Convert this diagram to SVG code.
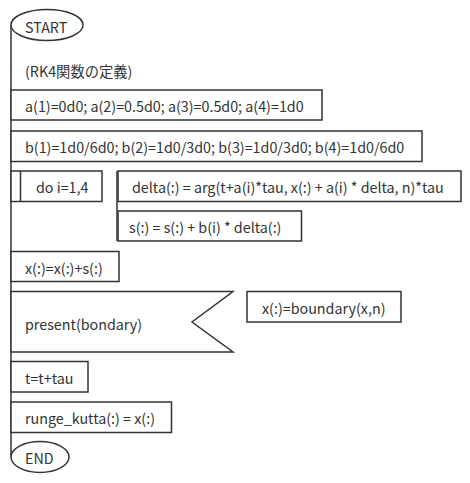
<svg xmlns="http://www.w3.org/2000/svg" width="470" height="483" viewBox="0 0 470 483">
<style>
.s{fill:#fff;stroke:#333;stroke-width:1.5}
.l{fill:none;stroke:#333;stroke-width:1.5}
text{font-family:"Noto Sans CJK JP","Noto Sans",sans-serif;font-size:14.3px;fill:#333;dominant-baseline:central}
</style>
<rect width="470" height="483" fill="#fff"/>
<g id="connectors">
<line class="l" x1="11" y1="25" x2="11" y2="457"/>
<line class="l" x1="117" y1="171" x2="117" y2="241"/>
</g>
<g id="start"><ellipse class="s" cx="47" cy="25" rx="36" ry="15.5"/><text x="25" y="26">START</text></g>
<g id="comment"><text x="25" y="70">(RK4関数の定義)</text></g>
<g id="a"><rect class="s" x="11" y="90" width="311" height="30"/><text x="25" y="105.5">a(1)=0d0; a(2)=0.5d0; a(3)=0.5d0; a(4)=1d0</text></g>
<g id="b"><rect class="s" x="11" y="131" width="411" height="30.5"/><text x="25" y="146.5">b(1)=1d0/6d0; b(2)=1d0/3d0; b(3)=1d0/3d0; b(4)=1d0/6d0</text></g>
<g id="do"><rect class="s" x="11" y="171" width="91" height="30.5"/><line class="l" x1="20.5" y1="171" x2="20.5" y2="201.5"/><text x="36" y="186.5">do i=1,4</text></g>
<g id="delta"><rect class="s" x="118" y="171" width="343" height="30.5"/><text x="132" y="186.5">delta(:) = arg(t+a(i)*tau, x(:) + a(i) * delta, n)*tau</text></g>
<g id="s"><rect class="s" x="118" y="211" width="183.5" height="30"/><text x="129" y="226.5">s(:) = s(:) + b(i) * delta(:)</text></g>
<g id="x"><rect class="s" x="11" y="251.5" width="108" height="30"/><text x="25" y="267">x(:)=x(:)+s(:)</text></g>
<g id="present"><path class="s" d="M11 291.5H233L192 322L233 352H11Z"/><text x="25" y="323.5">present(bondary)</text></g>
<g id="boundary"><rect class="s" x="247" y="291.5" width="154" height="30.5"/><text x="262" y="307">x(:)=boundary(x,n)</text></g>
<g id="t"><rect class="s" x="11" y="361.5" width="77" height="30.5"/><text x="25" y="377.5">t=t+tau</text></g>
<g id="rk"><rect class="s" x="11" y="402" width="160.5" height="30.5"/><text x="25" y="417.5">runge_kutta(:) = x(:)</text></g>
<g id="end"><ellipse class="s" cx="40" cy="457" rx="29" ry="15.5"/><text x="25" y="457.5">END</text></g>
</svg>
